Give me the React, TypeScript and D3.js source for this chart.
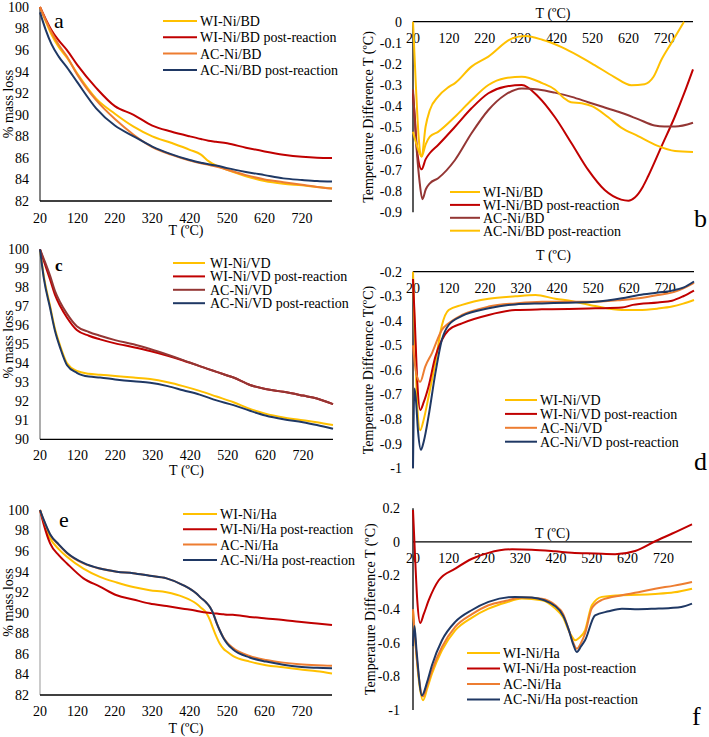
import React from "react";
import * as d3 from "d3";

// ---------- shared ----------
const X_TICKS = [20, 120, 220, 320, 420, 520, 620, 720];
const C_YEL = "#FFC000";
const C_RED = "#C00000";
const C_ORA = "#ED7D31";
const C_BLU = "#1F3864";
const C_BRN = "#943634";

// ---------- panel a (TGA, BD) ----------
const tA = [20, 35, 50, 70, 92, 120, 170, 220, 270, 320, 370, 420, 450, 470, 490, 520, 570, 620, 670, 720, 760, 800];
const aWI = [100, 98.7, 97.5, 96.3, 95.3, 93.8, 91.5, 90.1, 88.9, 88.0, 87.4, 86.75, 86.3, 85.7, 85.3, 84.9, 84.3, 83.85, 83.6, 83.45, 83.3, 83.15];
const aWIpost = [100, 98.9, 97.9, 96.9, 96.0, 94.6, 92.5, 90.8, 90.0, 89.0, 88.45, 88.0, 87.75, 87.6, 87.5, 87.35, 86.95, 86.6, 86.3, 86.1, 86.02, 86.0];
const aAC = [100, 98.8, 97.7, 96.5, 95.4, 93.7, 91.35, 89.6, 88.15, 87.0, 86.3, 85.75, 85.5, 85.35, 85.2, 84.9, 84.4, 84.0, 83.75, 83.5, 83.3, 83.15];
const aACpost = [99.5, 97.9, 96.6, 95.4, 94.4, 93.0, 90.6, 89.0, 88.0, 87.05, 86.35, 85.8, 85.55, 85.4, 85.3, 85.05, 84.7, 84.4, 84.1, 83.95, 83.85, 83.8];

// ---------- panel b (DTA, BD) ----------
const tB_WI = [20, 28, 36, 44, 55, 67, 90, 118, 137, 183, 230, 295, 332, 380, 434, 480, 526, 580, 628, 665, 690, 712, 740, 775];
const bWI = [0, -0.3, -0.55, -0.637, -0.496, -0.417, -0.354, -0.31, -0.29, -0.212, -0.165, -0.08, -0.068, -0.085, -0.12, -0.16, -0.205, -0.26, -0.3, -0.295, -0.26, -0.18, -0.1, 0];
const tB_WIpost = [20, 25, 32, 44, 55, 67, 90, 137, 183, 230, 276, 323, 369, 415, 462, 508, 554, 600, 620, 638, 660, 675, 712, 749, 775, 800];
const bWIpost = [-0.338, -0.45, -0.62, -0.697, -0.65, -0.62, -0.582, -0.496, -0.409, -0.338, -0.307, -0.299, -0.354, -0.45, -0.575, -0.7, -0.795, -0.84, -0.845, -0.83, -0.78, -0.73, -0.59, -0.45, -0.34, -0.225];
const tB_AC = [20, 28, 38, 46, 56, 67, 90, 137, 183, 230, 276, 323, 369, 415, 462, 508, 554, 600, 647, 693, 720, 750, 800];
const bAC = [-0.32, -0.55, -0.75, -0.838, -0.79, -0.763, -0.739, -0.653, -0.527, -0.417, -0.346, -0.315, -0.32, -0.335, -0.355, -0.38, -0.405, -0.43, -0.46, -0.49, -0.495, -0.495, -0.477];
const tB_ACpost = [20, 30, 38, 44, 55, 67, 90, 137, 183, 230, 276, 323, 380, 415, 440, 460, 490, 520, 563, 600, 647, 700, 750, 800];
const bACpost = [-0.52, -0.58, -0.62, -0.637, -0.58, -0.543, -0.52, -0.449, -0.37, -0.299, -0.267, -0.26, -0.29, -0.32, -0.36, -0.38, -0.385, -0.4, -0.45, -0.5, -0.54, -0.585, -0.61, -0.615];

// ---------- panel c (TGA, VD) ----------
const tC = [20, 30, 47, 60, 74, 92, 118, 150, 180, 220, 269, 313, 360, 401, 445, 490, 535, 579, 620, 668, 720, 757, 800];
const cWI = [100, 98.6, 97.0, 95.8, 94.9, 94.0, 93.6, 93.45, 93.4, 93.33, 93.25, 93.17, 93.0, 92.8, 92.55, 92.25, 91.95, 91.6, 91.35, 91.15, 91.0, 90.9, 90.75];
const cWIpost = [100, 99.4, 98.4, 97.6, 97.0, 96.4, 95.75, 95.45, 95.26, 95.05, 94.85, 94.65, 94.4, 94.15, 93.85, 93.55, 93.25, 92.86, 92.65, 92.5, 92.3, 92.15, 91.85];
const cAC = [100, 99.5, 98.6, 97.8, 97.2, 96.6, 95.95, 95.65, 95.45, 95.22, 95.0, 94.75, 94.45, 94.17, 93.85, 93.55, 93.25, 92.86, 92.65, 92.5, 92.3, 92.15, 91.85];
const cACpost = [100, 98.5, 96.9, 95.7, 94.8, 93.9, 93.5, 93.3, 93.25, 93.15, 93.05, 92.98, 92.8, 92.58, 92.35, 92.05, 91.8, 91.5, 91.25, 91.05, 90.9, 90.75, 90.55];

// ---------- panel d (DTA, VD) ----------
const tD_WI = [20, 25, 32, 40, 50, 63, 82, 100, 119, 156, 230, 304, 360, 415, 462, 526, 600, 647, 700, 739, 770, 800];
const dWI = [-0.2, -0.45, -0.75, -0.845, -0.8, -0.71, -0.57, -0.42, -0.356, -0.335, -0.31, -0.3, -0.295, -0.31, -0.32, -0.34, -0.356, -0.356, -0.35, -0.342, -0.33, -0.315];
const tD_WIpost = [20, 25, 32, 40, 50, 63, 82, 100, 119, 156, 230, 304, 378, 452, 526, 600, 630, 700, 739, 770, 800];
const dWIpost = [-0.23, -0.4, -0.65, -0.763, -0.73, -0.668, -0.546, -0.478, -0.437, -0.41, -0.376, -0.356, -0.353, -0.352, -0.349, -0.346, -0.335, -0.325, -0.318, -0.3, -0.277];
const tD_AC = [20, 24, 30, 40, 54, 73, 100, 119, 156, 230, 304, 378, 452, 526, 600, 647, 700, 750, 800];
const dAC = [-0.5, -0.56, -0.62, -0.648, -0.586, -0.53, -0.437, -0.41, -0.376, -0.342, -0.329, -0.322, -0.322, -0.322, -0.315, -0.308, -0.295, -0.28, -0.245];
const tD_ACpost = [20, 24, 28, 34, 42, 50, 63, 82, 100, 119, 156, 230, 304, 378, 452, 526, 600, 647, 700, 739, 770, 800];
const dACpost = [-1, -0.675, -0.72, -0.85, -0.925, -0.89, -0.79, -0.614, -0.478, -0.417, -0.38, -0.349, -0.333, -0.329, -0.326, -0.322, -0.308, -0.295, -0.285, -0.277, -0.265, -0.24];

// ---------- panel e (TGA, Ha) ----------
const tE = [20, 30, 47, 70, 92, 136, 180, 225, 269, 313, 358, 402, 437, 450, 464, 475, 482, 492, 500, 510, 520, 535, 580, 624, 670, 712, 760, 800];
const eWI = [100, 98.8, 97.25, 96.2, 95.45, 94.3, 93.5, 92.95, 92.5, 92.2, 92.0, 91.55, 90.9, 90.5, 90.0, 89.2, 88.5, 87.6, 87.0, 86.5, 86.2, 85.8, 85.25, 84.9, 84.7, 84.5, 84.3, 84.1];
const eWIpost = [100, 98.6, 96.75, 95.6, 94.8, 93.35, 92.55, 91.7, 91.3, 90.9, 90.65, 90.4, 90.2, 90.1, 90.02, 89.98, 89.95, 89.92, 89.88, 89.85, 89.82, 89.8, 89.6, 89.45, 89.3, 89.13, 88.95, 88.8];
const eAC = [100, 99.0, 97.6, 96.6, 95.8, 94.8, 94.3, 94.0, 93.85, 93.6, 93.35, 92.7, 91.9, 91.45, 91.0, 90.5, 90.0, 89.0, 88.3, 87.6, 87.1, 86.6, 85.8, 85.4, 85.15, 85.0, 84.9, 84.85];
const eACpost = [100, 99.05, 97.65, 96.65, 95.85, 94.85, 94.3, 94.0, 93.85, 93.6, 93.35, 92.7, 91.9, 91.45, 91.0, 90.5, 90.0, 89.0, 88.3, 87.55, 87.0, 86.45, 85.65, 85.25, 84.95, 84.75, 84.65, 84.6];

// ---------- panel f (DTA, Ha) ----------
const tF_WI = [20, 25, 35, 48, 60, 73, 101, 138, 185, 231, 280, 324, 380, 418, 440, 455, 465, 473, 485, 501, 520, 548, 604, 650, 697, 750, 800];
const fWI = [-0.41, -0.55, -0.8, -0.942, -0.87, -0.784, -0.645, -0.526, -0.45, -0.397, -0.36, -0.337, -0.347, -0.397, -0.45, -0.526, -0.565, -0.585, -0.57, -0.526, -0.377, -0.327, -0.317, -0.315, -0.31, -0.3, -0.278];
const tF_WIpost = [20, 25, 32, 40, 50, 64, 92, 138, 185, 231, 297, 352, 418, 464, 529, 585, 641, 697, 745, 800];
const fWIpost = [0.19, -0.05, -0.35, -0.482, -0.43, -0.347, -0.228, -0.159, -0.1, -0.065, -0.044, -0.046, -0.056, -0.065, -0.069, -0.073, -0.054, 0.004, 0.05, 0.105];
const tF_AC = [20, 25, 35, 48, 60, 73, 101, 138, 185, 231, 280, 324, 380, 418, 440, 455, 468, 478, 490, 501, 520, 548, 604, 650, 697, 750, 800];
const fAC = [-0.4, -0.55, -0.78, -0.92, -0.85, -0.765, -0.625, -0.506, -0.43, -0.377, -0.35, -0.331, -0.338, -0.377, -0.43, -0.52, -0.6, -0.635, -0.6, -0.545, -0.395, -0.345, -0.317, -0.3, -0.278, -0.26, -0.238];
const tF_ACpost = [20, 24, 30, 45, 60, 73, 101, 138, 185, 231, 306, 352, 418, 440, 455, 468, 478, 490, 501, 529, 567, 604, 650, 697, 740, 770, 800];
const fACpost = [-0.62, -0.5, -0.65, -0.913, -0.83, -0.734, -0.585, -0.476, -0.405, -0.357, -0.327, -0.331, -0.383, -0.44, -0.52, -0.61, -0.655, -0.62, -0.585, -0.437, -0.413, -0.397, -0.4, -0.397, -0.393, -0.387, -0.367];

// ---------- tick labels ----------
const yTicksTGA = [82, 84, 86, 88, 90, 92, 94, 96, 98, 100];
const yTicksC = [90, 91, 92, 93, 94, 95, 96, 97, 98, 99, 100];
const yTicksB = [0, -0.1, -0.2, -0.3, -0.4, -0.5, -0.6, -0.7, -0.8, -0.9];
const yTicksD = [-0.2, -0.3, -0.4, -0.5, -0.6, -0.7, -0.8, -0.9, -1];
const yTicksF = [0.2, 0, -0.2, -0.4, -0.6, -0.8, -1];

const FONT = "'Liberation Serif', 'Times New Roman', serif";

type Series = { name: string; T: number[]; V: number[]; color: string };
type PanelCfg = {
  xr: [number, number];
  yr: [number, number];
  yd: [number, number];
  yTicks: number[];
  yLabelX: number;
  xAxisVal: number;
  xLabelY: number;
  xTitleY: number;
  yTitle: string;
  yTitleX: number;
  yAxisColor: string;
  legend: { x1: number; x2: number; tx: number; y0: number; dy: number };
  letter: { text: string; x: number; y: number; size: number; weight?: string };
  series: Series[];
};

function Panel({ cfg }: { cfg: PanelCfg }) {
  const x = d3.scaleLinear().domain([20, 800]).range(cfg.xr);
  const y = d3.scaleLinear().domain(cfg.yd).range(cfg.yr);
  const line = d3
    .line<[number, number]>()
    .x((d) => x(d[0]))
    .y((d) => y(d[1]))
    .curve(d3.curveMonotoneX);
  const axY = y(cfg.xAxisVal);
  const midX = (cfg.xr[0] + cfg.xr[1]) / 2;
  const midY = (cfg.yr[0] + cfg.yr[1]) / 2;
  return (
    <g fontFamily={FONT} fontSize={14} fill="#000">
      {/* y tick labels */}
      {cfg.yTicks.map((t) => (
        <text key={"y" + t} x={cfg.yLabelX} y={y(t)} dy="0.35em" textAnchor="end">
          {String(Math.round(t * 10) / 10)}
        </text>
      ))}
      {/* x tick labels */}
      {X_TICKS.map((t) => (
        <text key={"x" + t} x={x(t)} y={cfg.xLabelY} textAnchor="middle">
          {t}
        </text>
      ))}
      <text x={midX} y={cfg.xTitleY} textAnchor="middle">
        T (ºC)
      </text>
      <text
        transform={`translate(${cfg.yTitleX},${midY}) rotate(-90)`}
        textAnchor="middle"
        dy="0.35em"
      >
        {cfg.yTitle}
      </text>
      {/* axes */}
      <line x1={cfg.xr[0]} x2={cfg.xr[0]} y1={cfg.yr[0]} y2={cfg.yr[1]} stroke={cfg.yAxisColor} strokeWidth={1.3} />
      <line x1={cfg.xr[0]} x2={cfg.xr[1]} y1={axY} y2={axY} stroke="#000" strokeWidth={1.3} />
      {/* series */}
      {cfg.series.map((s) => (
        <path
          key={s.name}
          d={line(s.T.map((t, i) => [t, s.V[i]] as [number, number])) || ""}
          fill="none"
          stroke={s.color}
          strokeWidth={2}
        />
      ))}
      {/* legend */}
      {cfg.series.map((s, i) => {
        const ly = cfg.legend.y0 + i * cfg.legend.dy;
        return (
          <g key={"lg" + s.name}>
            <line x1={cfg.legend.x1} x2={cfg.legend.x2} y1={ly} y2={ly} stroke={s.color} strokeWidth={2} />
            <text x={cfg.legend.tx} y={ly} dy="0.35em">
              {s.name}
            </text>
          </g>
        );
      })}
      <text
        x={cfg.letter.x}
        y={cfg.letter.y}
        fontSize={cfg.letter.size}
        fontWeight={cfg.letter.weight || "normal"}
      >
        {cfg.letter.text}
      </text>
    </g>
  );
}

const panels: PanelCfg[] = [
  {
    xr: [40, 332], yr: [7, 201], yd: [100, 82], yTicks: yTicksTGA, yLabelX: 29,
    xAxisVal: 82, xLabelY: 223, xTitleY: 235, yTitle: "%  mass loss", yTitleX: 8,
    yAxisColor: "#404040",
    legend: { x1: 163, x2: 197, tx: 200, y0: 21, dy: 16.3 },
    letter: { text: "a", x: 54, y: 28, size: 22 },
    series: [
      { name: "WI-Ni/BD", T: tA, V: aWI, color: C_YEL },
      { name: "WI-Ni/BD post-reaction", T: tA, V: aWIpost, color: C_RED },
      { name: "AC-Ni/BD", T: tA, V: aAC, color: C_ORA },
      { name: "AC-Ni/BD post-reaction", T: tA, V: aACpost, color: C_BLU },
    ],
  },
  {
    xr: [413, 693], yr: [21.7, 212.3], yd: [0, -0.9], yTicks: yTicksB, yLabelX: 402,
    xAxisVal: 0, xLabelY: 43, xTitleY: 18, yTitle: "Temperature Difference T (ºC)", yTitleX: 368,
    yAxisColor: "#000",
    legend: { x1: 450, x2: 480, tx: 483, y0: 192, dy: 12.9 },
    letter: { text: "b", x: 694, y: 227, size: 26 },
    series: [
      { name: "WI-Ni/BD", T: tB_WI, V: bWI, color: C_YEL },
      { name: "WI-Ni/BD post-reaction", T: tB_WIpost, V: bWIpost, color: C_RED },
      { name: "AC-Ni/BD", T: tB_AC, V: bAC, color: C_BRN },
      { name: "AC-Ni/BD post-reaction", T: tB_ACpost, V: bACpost, color: C_YEL },
    ],
  },
  {
    xr: [40, 333], yr: [249.3, 439.3], yd: [100, 90], yTicks: yTicksC, yLabelX: 29,
    xAxisVal: 90, xLabelY: 460, xTitleY: 475, yTitle: "% mass loss", yTitleX: 8,
    yAxisColor: "#808080",
    legend: { x1: 173, x2: 205, tx: 210, y0: 263, dy: 13.4 },
    letter: { text: "c", x: 55, y: 270.5, size: 17, weight: "bold" },
    series: [
      { name: "WI-Ni/VD", T: tC, V: cWI, color: C_YEL },
      { name: "WI-Ni/VD post-reaction", T: tC, V: cWIpost, color: C_RED },
      { name: "AC-Ni/VD", T: tC, V: cAC, color: C_BRN },
      { name: "AC-Ni/VD post-reaction", T: tC, V: cACpost, color: C_BLU },
    ],
  },
  {
    xr: [413, 694], yr: [271.7, 468.3], yd: [-0.2, -1], yTicks: yTicksD, yLabelX: 402,
    xAxisVal: -0.2, xLabelY: 293, xTitleY: 260, yTitle: "Temperature Difference T(ºC)", yTitleX: 368,
    yAxisColor: "#000",
    legend: { x1: 505, x2: 537, tx: 540, y0: 400, dy: 13.9 },
    letter: { text: "d", x: 694, y: 470, size: 26 },
    series: [
      { name: "WI-Ni/VD", T: tD_WI, V: dWI, color: C_YEL },
      { name: "WI-Ni/VD post-reaction", T: tD_WIpost, V: dWIpost, color: C_RED },
      { name: "AC-Ni/VD", T: tD_AC, V: dAC, color: C_ORA },
      { name: "AC-Ni/VD post-reaction", T: tD_ACpost, V: dACpost, color: C_BLU },
    ],
  },
  {
    xr: [40, 332], yr: [510, 695], yd: [100, 82], yTicks: yTicksTGA, yLabelX: 29,
    xAxisVal: 82, xLabelY: 716, xTitleY: 733, yTitle: "% mass loss", yTitleX: 8,
    yAxisColor: "#b0b0b0",
    legend: { x1: 183, x2: 217, tx: 220, y0: 514, dy: 15.3 },
    letter: { text: "e", x: 59, y: 526.5, size: 22 },
    series: [
      { name: "WI-Ni/Ha", T: tE, V: eWI, color: C_YEL },
      { name: "WI-Ni/Ha post-reaction", T: tE, V: eWIpost, color: C_RED },
      { name: "AC-Ni/Ha", T: tE, V: eAC, color: C_ORA },
      { name: "AC-Ni/Ha post-reaction", T: tE, V: eACpost, color: C_BLU },
    ],
  },
  {
    xr: [413, 692], yr: [508.3, 710], yd: [0.2, -1], yTicks: yTicksF, yLabelX: 400,
    xAxisVal: 0, xLabelY: 563, xTitleY: 538, yTitle: "Temperature Difference T (ºC)", yTitleX: 370,
    yAxisColor: "#000",
    legend: { x1: 467, x2: 500, tx: 503, y0: 653, dy: 15.5 },
    letter: { text: "f", x: 692, y: 725, size: 26 },
    series: [
      { name: "WI-Ni/Ha", T: tF_WI, V: fWI, color: C_YEL },
      { name: "WI-Ni/Ha post-reaction", T: tF_WIpost, V: fWIpost, color: C_RED },
      { name: "AC-Ni/Ha", T: tF_AC, V: fAC, color: C_ORA },
      { name: "AC-Ni/Ha post-reaction", T: tF_ACpost, V: fACpost, color: C_BLU },
    ],
  },
];

export default function App() {
  return (
    <svg
      width={709}
      height={737}
      style={{ position: "absolute", left: 0, top: 0, background: "#fff" }}
    >
      <rect width={709} height={737} fill="#fff" />
      {panels.map((p, i) => (
        <Panel key={i} cfg={p} />
      ))}
    </svg>
  );
}
